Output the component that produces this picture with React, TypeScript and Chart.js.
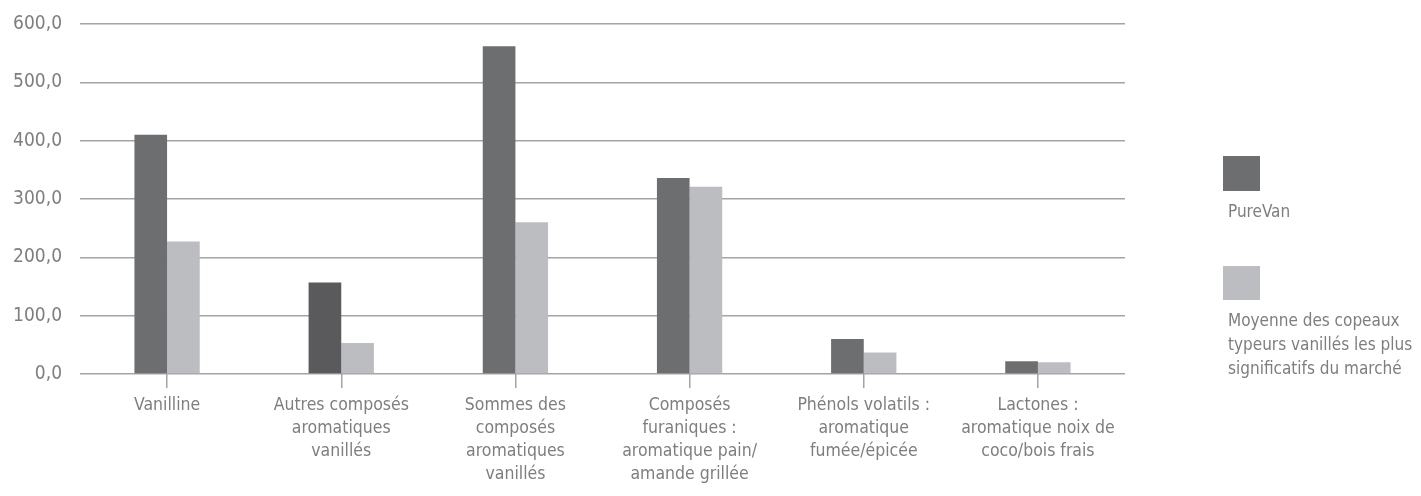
import React, { useEffect, useRef } from "react";
import { Chart, registerables } from "chart.js";

Chart.register(...registerables);

// ---- data ----
const categories: string[][] = [
  ["Vanilline"],
  ["Autres composés", "aromatiques", "vanillés"],
  ["Sommes des", "composés", "aromatiques", "vanillés"],
  ["Composés", "furaniques :", "aromatique pain/", "amande grillée"],
  ["Phénols volatils :", "aromatique", "fumée/épicée"],
  ["Lactones :", "aromatique noix de", "coco/bois frais"],
];
const pureVanValues = [410, 157, 562, 336, 60, 22];
const marketValues = [227, 53, 260, 321, 37, 20];
const yTickValues = [0, 100, 200, 300, 400, 500, 600];
const legendPureVan = ["PureVan"];
const legendMarket = ["Moyenne des copeaux", "typeurs vanillés les plus", "significatifs du marché"];

// ---- style ----
const FONT_FAMILY = '"DejaVu Sans Condensed", "DejaVu Sans", sans-serif';
const TEXT_COLOR = "#7d7e81";
const GRID_COLOR = "#a3a4a7";
const DARK = "#6d6e70";
const DARKER = "#5a5a5c";
const LIGHT = "#bcbdc0";

const legendPlugin = {
  id: "customLegend",
  afterDraw(chart: any) {
    const ctx = chart.ctx as CanvasRenderingContext2D;
    const items = [
      { color: DARK, lines: legendPureVan, top: 156, size: 35 },
      { color: LIGHT, lines: legendMarket, top: 266, size: 34 },
    ];
    ctx.save();
    ctx.font = `17px ${FONT_FAMILY}`;
    ctx.textAlign = "left";
    ctx.textBaseline = "alphabetic";
    items.forEach((it) => {
      ctx.fillStyle = it.color;
      ctx.fillRect(1223, it.top, 37, it.size);
      ctx.fillStyle = TEXT_COLOR;
      it.lines.forEach((ln, i) => {
        ctx.fillText(ln, 1228, it.top + it.size + 26 + i * 24);
      });
    });
    ctx.restore();
  },
};

export default function App() {
  const canvasRef = useRef<HTMLCanvasElement | null>(null);

  useEffect(() => {
    if (!canvasRef.current) return;
    const chart = new Chart(canvasRef.current, {
      type: "bar",
      data: {
        labels: categories,
        datasets: [
          {
            label: legendPureVan.join(" "),
            data: pureVanValues,
            backgroundColor: pureVanValues.map((_, i) => (i === 1 ? DARKER : DARK)),
            borderWidth: 0,
            categoryPercentage: 0.375,
            barPercentage: 1,
          },
          {
            label: legendMarket.join(" "),
            data: marketValues,
            backgroundColor: LIGHT,
            borderWidth: 0,
            categoryPercentage: 0.375,
            barPercentage: 1,
          },
        ],
      },
      options: {
        animation: false,
        responsive: true,
        maintainAspectRatio: false,
        layout: { padding: { top: 24, right: 296, bottom: 0, left: 0 } },
        plugins: {
          legend: { display: false },
          tooltip: { enabled: false },
          title: { display: false },
        },
        scales: {
          x: {
            grid: {
              display: true,
              drawOnChartArea: false,
              drawTicks: true,
              tickLength: 14,
              offset: false,
              color: GRID_COLOR,
              lineWidth: 1.5,
            },
            border: { display: false },
            ticks: {
              autoSkip: false,
              maxRotation: 0,
              minRotation: 0,
              padding: 6,
              color: TEXT_COLOR,
              font: { family: FONT_FAMILY, size: 17.5, lineHeight: 1.32 },
            },
            afterFit: (s: any) => {
              s.height = 122;
              s.paddingLeft = 0;
              s.paddingRight = 0;
            },
          },
          y: {
            min: 0,
            max: 600,
            afterBuildTicks: (s: any) => {
              s.ticks = yTickValues.map((v) => ({ value: v }));
            },
            grid: {
              color: GRID_COLOR,
              lineWidth: 1.5,
              drawTicks: false,
            },
            border: { display: false },
            ticks: {
              padding: 18,
              color: TEXT_COLOR,
              font: { family: FONT_FAMILY, size: 19 },
              callback: (v: any) => Number(v).toFixed(1).replace(".", ","),
            },
            afterFit: (s: any) => {
              s.width = 80;
              s.paddingTop = 0;
              s.paddingBottom = 0;
            },
          },
        },
      },
      plugins: [legendPlugin],
    });
    return () => chart.destroy();
  }, []);

  return (
    <div style={{ position: "absolute", left: 0, top: 0, width: 1421, height: 496, background: "#fff" }}>
      <canvas ref={canvasRef} />
    </div>
  );
}
